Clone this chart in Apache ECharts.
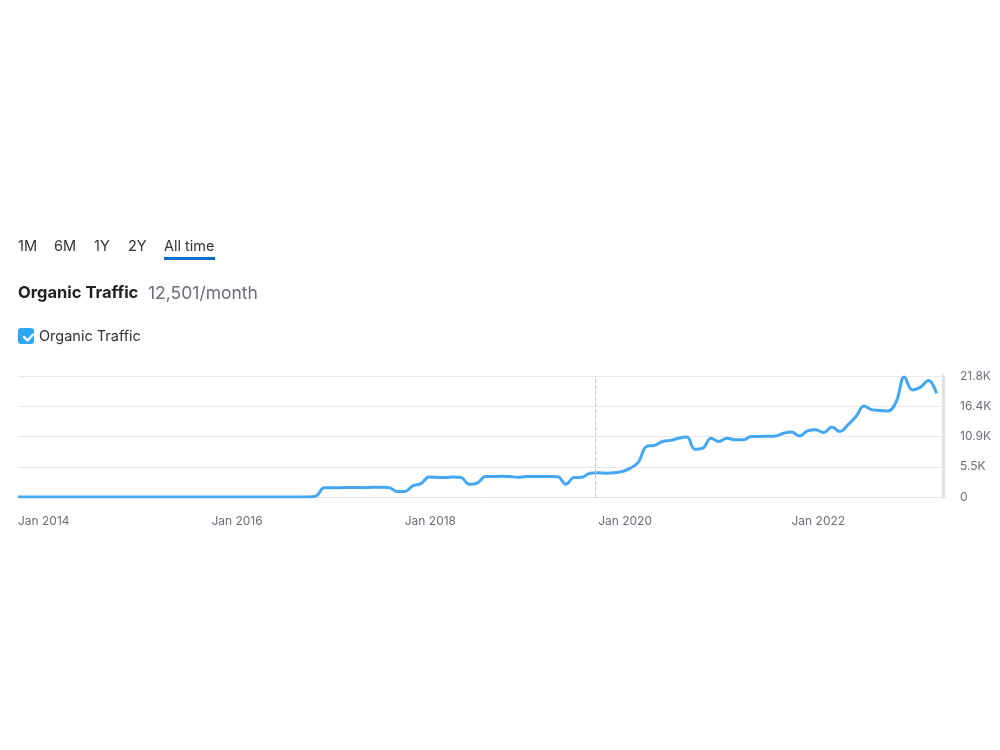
<!DOCTYPE html>
<html>
<head>
<meta charset="utf-8">
<script src="https://cdn.jsdelivr.net/npm/echarts@6/dist/echarts.min.js"></script>
<style>
  html, body { margin: 0; padding: 0; background: #fff; }
  #chart { width: 1000px; height: 750px; }
</style>
</head>
<body>
<div id="chart"></div>
<script>
// monthly organic traffic, Jan 2014 .. Jul 2023 (thousands)
const startYear = 2014
const traffic = [
  // 2014
  0, 0, 0, 0, 0, 0, 0, 0, 0, 0, 0, 0,
  // 2015
  0, 0, 0, 0, 0, 0, 0, 0, 0, 0, 0, 0,
  // 2016
  0, 0, 0, 0, 0, 0, 0, 0, 0, 0, 0, 0,
  // 2017
  0, 0.2, 1.65, 1.66, 1.68, 1.7, 1.72, 1.68, 1.74, 1.74, 1.72, 1.0,
  // 2018
  0.98, 2.0, 2.4, 3.6, 3.55, 3.5, 3.6, 3.5, 2.3, 2.5, 3.7, 3.7,
  // 2019
  3.72, 3.7, 3.55, 3.68, 3.7, 3.68, 3.7, 3.65, 2.3, 3.5, 3.55, 4.3,
  // 2020
  4.35, 4.3, 4.35, 4.6, 5.2, 6.3, 9.1, 9.3, 10.0, 10.2, 10.6, 10.8,
  // 2021
  8.6, 8.8, 10.6, 10.0, 10.6, 10.3, 10.3, 10.9, 10.9, 10.95, 11.0, 11.5,
  // 2022
  11.7, 11.0, 11.9, 12.1, 11.6, 12.6, 11.8, 13.0, 14.5, 16.4, 15.7, 15.6,
  // 2023
  15.5, 17.2, 21.6, 19.3, 19.8, 21.0, 18.7
]
const monthNames = ['Jan', 'Feb', 'Mar', 'Apr', 'May', 'Jun', 'Jul', 'Aug', 'Sep', 'Oct', 'Nov', 'Dec']
const months = traffic.map((_, i) => monthNames[i % 12] + ' ' + (startYear + Math.floor(i / 12)))
const yTickLabels = ['0', '5.5K', '10.9K', '16.4K', '21.8K']
const yStep = 5450
const periods = ['1M', '6M', '1Y', '2Y', 'All time']
const markerMonth = 71.6 // dashed marker, end of 2019

const chart = echarts.init(document.getElementById('chart'))
const FONT = 'Inter, "Noto Sans", sans-serif'

const periodX = [18, 54, 94, 128, 164]
const headerGraphics = periods.map((p, i) => ({
  type: 'text',
  left: periodX[i],
  top: 239,
  style: { text: p, fill: '#333', font: '400 14.5px ' + FONT }
}))

chart.setOption({
  animation: false,
  graphic: [
    ...headerGraphics,
    { type: 'rect', left: 164, top: 257, shape: { width: 51, height: 3 }, style: { fill: '#006dca' } },
    { type: 'text', left: 18, top: 285, style: { text: 'Organic Traffic', fill: '#222', font: '700 16.5px ' + FONT } },
    { type: 'text', left: 148, top: 285, style: { text: '12,501/month', fill: '#6c6e79', font: '400 17.5px ' + FONT } },
    { type: 'rect', left: 18, top: 328, shape: { width: 16, height: 16, r: 3 }, style: { fill: '#2ea8f6' } },
    {
      type: 'polyline', left: 21.5, top: 332,
      shape: { points: [[0, 4], [3.5, 7.5], [9, 1.5]] },
      style: { stroke: '#fff', lineWidth: 2.2, fill: null, lineJoin: 'round', lineCap: 'round' }
    },
    { type: 'text', left: 39, top: 329, style: { text: 'Organic Traffic', fill: '#333', font: '400 14.5px ' + FONT } }
  ],
  grid: { left: 18, right: 57, top: 376, bottom: 253 },
  xAxis: {
    type: 'value',
    min: 0,
    max: 114.8,
    interval: 24,
    axisLine: { show: true, onZero: false, lineStyle: { color: '#e3e4ea', width: 1 } },
    axisTick: { show: false },
    splitLine: { show: false },
    axisLabel: {
      color: '#6c6e79',
      fontFamily: FONT,
      fontSize: 12,
      margin: 18,
      align: 'left',
      showMaxLabel: false,
      formatter: v => months[Math.round(v)] || ''
    }
  },
  yAxis: {
    type: 'value',
    position: 'right',
    min: 0,
    max: yStep * 4,
    interval: yStep,
    axisLine: { show: true, onZero: false, lineStyle: { color: '#dfe1e5', width: 3 } },
    axisTick: { show: false },
    splitLine: { lineStyle: { color: '#e8e9ee', width: 1 } },
    axisLabel: {
      color: '#6c6e79',
      fontFamily: FONT,
      fontSize: 12,
      margin: 17,
      formatter: v => yTickLabels[Math.round(v / yStep)]
    }
  },
  series: [{
    type: 'line',
    data: traffic.map((v, i) => [i, v * 1000]),
    smooth: 0.4,
    symbol: 'none',
    lineStyle: { color: '#45a6f4', width: 3 },
    markLine: {
      silent: true,
      symbol: 'none',
      label: { show: false },
      lineStyle: { color: '#c4c6cf', type: 'dashed', width: 1 },
      data: [{ xAxis: markerMonth }]
    }
  }]
})
</script>
</body>
</html>
